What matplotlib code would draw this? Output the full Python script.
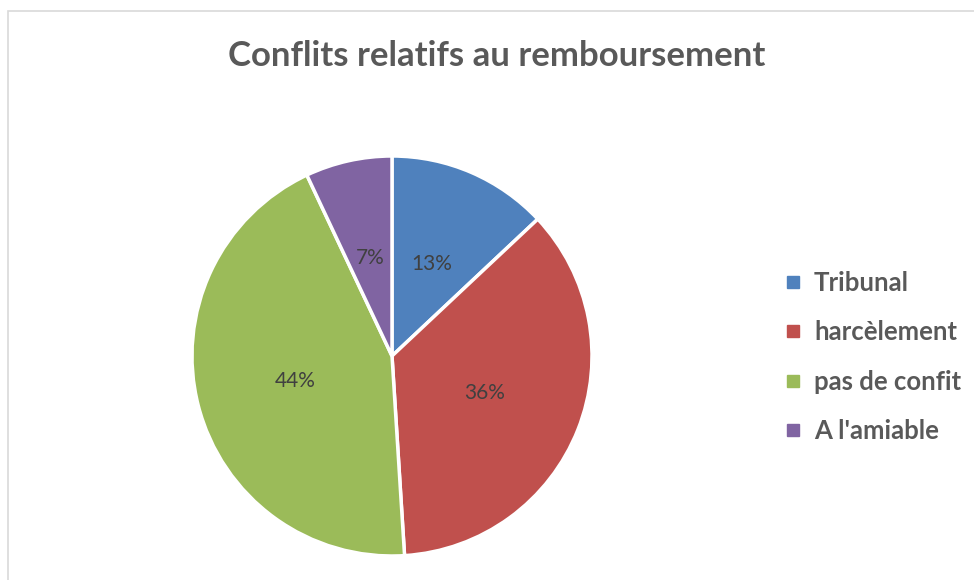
import matplotlib.pyplot as plt
from matplotlib.lines import Line2D
from matplotlib.patches import Rectangle

categories = ['Tribunal', 'harcèlement', 'pas de confit', "A l'amiable"]
shares = [13, 36, 44, 7]
colors = ['#4f81bd', '#c0504d', '#9bbb59', '#8064a2']

plt.rcParams['font.family'] = ['Lato', 'DejaVu Sans']

W, H = 974, 580
fig = plt.figure(figsize=(W / 100, H / 100), dpi=100)

# light chart-area frame (runs off the right and bottom edge)
fig.patches.append(Rectangle((8 / W, -0.05), 1.1, 1 - 11 / H + 0.05,
                             transform=fig.transFigure, fill=False,
                             edgecolor='#d9d9d9', linewidth=1.2))

cx, cy, r = 392, 356, 200
ax = fig.add_axes([(cx - r) / W, 1 - (cy + r) / H, 2 * r / W, 2 * r / H])
wedges, texts, autotexts = ax.pie(
    shares, colors=colors, startangle=90, counterclock=False,
    autopct='%d%%', pctdistance=0.5, radius=1,
    wedgeprops=dict(edgecolor='white', linewidth=2.5),
    textprops=dict(color='#404040', fontsize=15))
ax.set_xlim(-1, 1)
ax.set_ylim(-1, 1)
ax.set_aspect('equal')
ax.axis('off')

fig.text(497 / W, 1 - 56 / H, 'Conflits relatifs au remboursement',
         ha='center', va='center', fontsize=25, fontweight='bold',
         color='#595959')

handles = [Line2D([], [], marker='s', linestyle='none', markersize=8,
                  markerfacecolor=c, markeredgecolor=c) for c in colors]
leg = fig.legend(handles, categories, loc='center left',
                 bbox_to_anchor=(760 / W, 1 - 357 / H), frameon=False,
                 handlelength=0.8, handletextpad=0.4, labelspacing=0.98,
                 prop=dict(size=18.5, weight='bold'))
for t in leg.get_texts():
    t.set_color('#595959')

fig.savefig('out.png', dpi=100)
